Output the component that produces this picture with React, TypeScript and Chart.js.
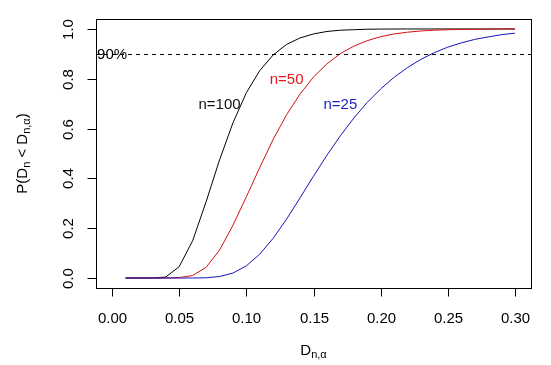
import React, { useEffect, useRef } from "react";
import { Chart, registerables } from "chart.js";

Chart.register(...registerables);

const dValues = [
  0.01, 0.02, 0.03, 0.04, 0.05, 0.06, 0.07, 0.08, 0.09, 0.10,
  0.11, 0.12, 0.13, 0.14, 0.15, 0.16, 0.17, 0.18, 0.19, 0.20,
  0.21, 0.22, 0.23, 0.24, 0.25, 0.26, 0.27, 0.28, 0.29, 0.30,
];
const n100 = [
  0, 0, 0, 0.004, 0.046, 0.15, 0.306, 0.474, 0.623, 0.744,
  0.833, 0.896, 0.938, 0.964, 0.98, 0.99, 0.995, 0.997, 0.999, 0.9995,
  0.9998, 1, 1, 1, 1, 1, 1, 1, 1, 1,
];
const n50 = [
  0, 0, 0, 0, 0.002, 0.01, 0.043, 0.112, 0.212, 0.326,
  0.444, 0.557, 0.656, 0.739, 0.807, 0.86, 0.901, 0.931, 0.953, 0.969,
  0.98, 0.987, 0.992, 0.995, 0.997, 0.998, 0.999, 0.9994, 0.9997, 0.9998,
];
const n25 = [
  0, 0, 0, 0, 0, 0.0002, 0.001, 0.006, 0.02, 0.049,
  0.096, 0.16, 0.237, 0.322, 0.409, 0.493, 0.571, 0.642, 0.705, 0.759,
  0.806, 0.845, 0.878, 0.905, 0.927, 0.944, 0.958, 0.968, 0.977, 0.983,
];
const xTicks = [0, 0.05, 0.1, 0.15, 0.2, 0.25, 0.3];
const xTickLabels = ["0.00", "0.05", "0.10", "0.15", "0.20", "0.25", "0.30"];
const yTicks = [0, 0.2, 0.4, 0.6, 0.8, 1.0];
const yTickLabels = ["0.0", "0.2", "0.4", "0.6", "0.8", "1.0"];
const refLevel = 0.9;
const refLabel = "90%";
const seriesLabels = [
  { text: "n=100", x: 0.08, y: 0.7, color: "#111111" },
  { text: "n=50", x: 0.13, y: 0.8, color: "#e01818" },
  { text: "n=25", x: 0.17, y: 0.7, color: "#1c1cc8" },
];

const FONT = "'Liberation Sans', Arial, Helvetica, sans-serif";

const toPts = (ys: number[]) => dValues.map((x, i) => ({ x, y: ys[i] }));

const axesPlugin = {
  id: "rAxes",
  afterDatasetsDraw(chart: any) {
    const ctx = chart.ctx as CanvasRenderingContext2D;
    const xs = chart.scales.x;
    const ys = chart.scales.y;
    const ca = chart.chartArea;
    ctx.save();
    // dashed reference line
    ctx.strokeStyle = "#000";
    ctx.lineWidth = 1;
    ctx.setLineDash([4, 4]);
    const yr = Math.round(ys.getPixelForValue(refLevel)) + 0.5;
    ctx.beginPath();
    ctx.moveTo(ca.left, yr);
    ctx.lineTo(ca.right, yr);
    ctx.stroke();
    ctx.setLineDash([]);

    ctx.font = `15px ${FONT}`;
    ctx.textAlign = "center";
    ctx.textBaseline = "middle";
    ctx.fillStyle = "#000";
    ctx.fillText(refLabel, xs.getPixelForValue(0), ys.getPixelForValue(refLevel) + 1);

    for (const s of seriesLabels) {
      ctx.fillStyle = s.color;
      ctx.fillText(s.text, xs.getPixelForValue(s.x), ys.getPixelForValue(s.y) + 1);
    }

    // box
    ctx.strokeStyle = "#000";
    ctx.lineWidth = 1;
    ctx.strokeRect(
      Math.round(ca.left) + 0.5,
      Math.round(ca.top) + 0.5,
      Math.round(ca.right - ca.left),
      Math.round(ca.bottom - ca.top)
    );

    // x ticks
    ctx.fillStyle = "#000";
    ctx.textAlign = "center";
    ctx.textBaseline = "alphabetic";
    const by = Math.round(ca.bottom) + 0.5;
    xTicks.forEach((v, i) => {
      const px = Math.round(xs.getPixelForValue(v)) + 0.5;
      ctx.beginPath();
      ctx.moveTo(px, by);
      ctx.lineTo(px, by + 8);
      ctx.stroke();
      ctx.fillText(xTickLabels[i], px, 323);
    });

    // y ticks
    const lx = Math.round(ca.left) + 0.5;
    yTicks.forEach((v, i) => {
      const py = Math.round(ys.getPixelForValue(v)) + 0.5;
      ctx.beginPath();
      ctx.moveTo(lx, py);
      ctx.lineTo(lx - 9, py);
      ctx.stroke();
      ctx.save();
      ctx.translate(73, py);
      ctx.rotate(-Math.PI / 2);
      ctx.textAlign = "center";
      ctx.textBaseline = "alphabetic";
      ctx.fillText(yTickLabels[i], 0, 0);
      ctx.restore();
    });

    // helper for math-like labels
    const parts = (segs: { t: string; sub: boolean }[]) => {
      let w = 0;
      for (const s of segs) {
        ctx.font = s.sub ? `11px ${FONT}` : `15px ${FONT}`;
        w += ctx.measureText(s.t).width;
      }
      return w;
    };
    const drawParts = (segs: { t: string; sub: boolean }[]) => {
      const w = parts(segs);
      let x = -w / 2;
      ctx.textAlign = "left";
      ctx.textBaseline = "alphabetic";
      for (const s of segs) {
        ctx.font = s.sub ? `11px ${FONT}` : `15px ${FONT}`;
        ctx.fillText(s.t, x, s.sub ? 3 : 0);
        x += ctx.measureText(s.t).width;
      }
    };

    // x title
    ctx.save();
    ctx.translate((ca.left + ca.right) / 2, 355);
    drawParts([
      { t: "D", sub: false },
      { t: "n,α", sub: true },
    ]);
    ctx.restore();

    // y title
    ctx.save();
    ctx.translate(27, (ca.top + ca.bottom) / 2);
    ctx.rotate(-Math.PI / 2);
    drawParts([
      { t: "P(D", sub: false },
      { t: "n", sub: true },
      { t: " < D", sub: false },
      { t: "n,α", sub: true },
      { t: ")", sub: false },
    ]);
    ctx.restore();

    ctx.restore();
  },
};

export default function App() {
  const ref = useRef<HTMLCanvasElement | null>(null);
  useEffect(() => {
    if (!ref.current) return;
    const chart = new Chart(ref.current, {
      type: "line",
      data: {
        datasets: [
          {
            label: "n=25",
            data: toPts(n25),
            borderColor: "#1515b8",
            borderWidth: 1,
            pointRadius: 0,
            tension: 0,
            fill: false,
          },
          {
            label: "n=50",
            data: toPts(n50),
            borderColor: "#d41010",
            borderWidth: 1,
            pointRadius: 0,
            tension: 0,
            fill: false,
          },
          {
            label: "n=100",
            data: toPts(n100),
            borderColor: "#000000",
            borderWidth: 1,
            pointRadius: 0,
            tension: 0,
            fill: false,
          },
        ],
      },
      options: {
        responsive: false,
        animation: false,
        devicePixelRatio: 1,
        layout: { padding: { left: 96, right: 20, top: 19, bottom: 77 } },
        plugins: { legend: { display: false }, tooltip: { enabled: false } },
        scales: {
          x: { type: "linear", min: -0.012, max: 0.312, display: false },
          y: { type: "linear", min: -0.04, max: 1.04, display: false },
        },
      },
      plugins: [axesPlugin],
    });
    return () => chart.destroy();
  }, []);
  return (
    <div style={{ position: "fixed", left: 0, top: 0, width: 551, height: 365, background: "#fff" }}>
      <canvas ref={ref} width={551} height={365} style={{ display: "block" }} />
    </div>
  );
}
